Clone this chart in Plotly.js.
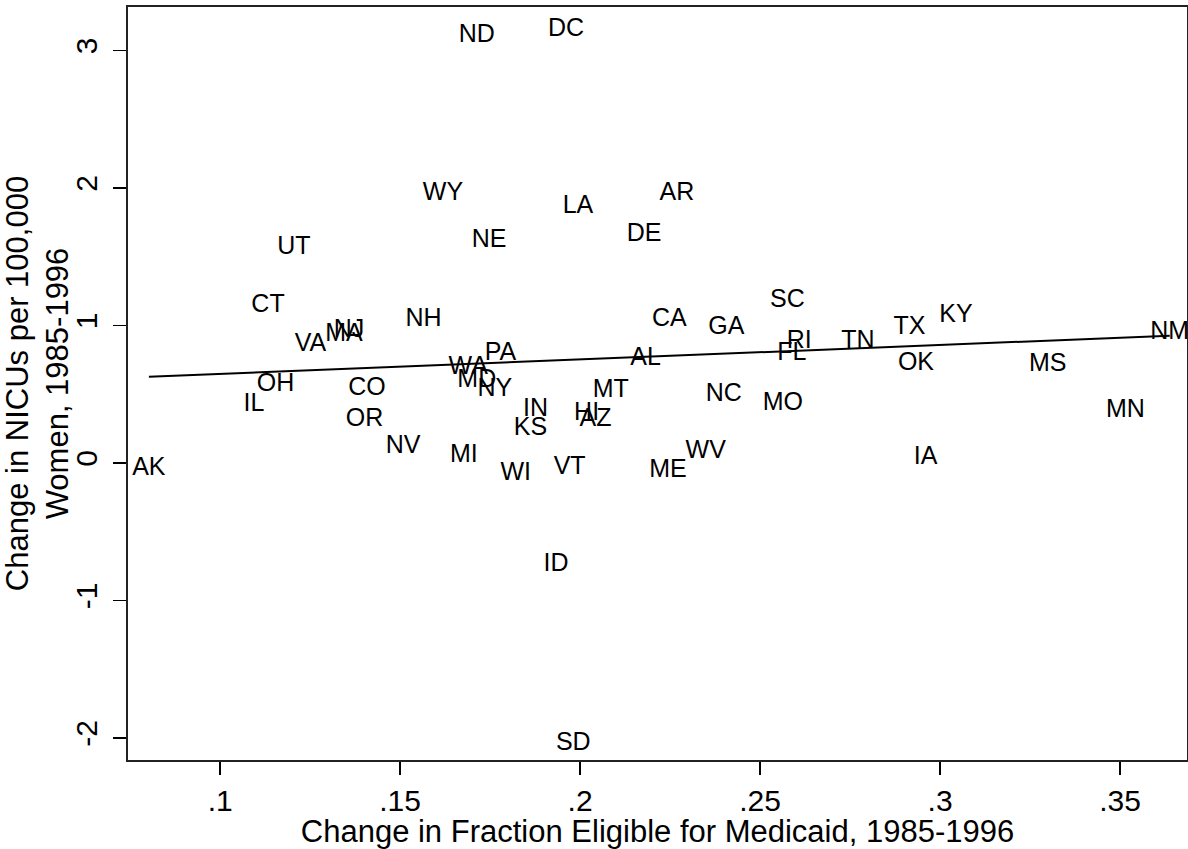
<!DOCTYPE html>
<html><head><meta charset="utf-8">
<script src="https://cdn.plot.ly/plotly-3.0.1.min.js"></script>
<style>html,body{margin:0;padding:0;background:#fff}#chart{width:1188px;height:849px}</style>
</head><body><div id="chart"></div>
<script>
const states = ["AK","CT","VA","MA","NJ","NH","OH","IL","CO","OR","NV","MI","WI","VT","WA","PA","MD","NY","IN","KS","HI","AZ","MT","AL","CA","GA","SC","RI","FL","TN","TX","KY","OK","MS","NC","MO","MN","WV","ME","IA","NM","ND","DC","WY","LA","UT","NE","DE","AR","ID","SD"];
const eligChange = [0.0802,0.1133,0.1251,0.1344,0.1358,0.1565,0.1154,0.1094,0.1408,0.1401,0.1508,0.1677,0.1821,0.1971,0.1689,0.1779,0.1713,0.1763,0.1876,0.1862,0.2018,0.2043,0.2085,0.2182,0.2248,0.2406,0.2576,0.2609,0.2588,0.2772,0.2915,0.3044,0.2933,0.3299,0.2399,0.2563,0.3515,0.2349,0.2244,0.2960,0.3638,0.1713,0.1961,0.1619,0.1994,0.1205,0.1747,0.2178,0.2269,0.1933,0.1981];
const nicuChange = [-0.045,1.145,0.860,0.933,0.960,1.038,0.565,0.420,0.541,0.311,0.120,0.048,-0.080,-0.037,0.695,0.796,0.600,0.535,0.384,0.251,0.360,0.314,0.527,0.757,1.044,0.984,1.178,0.882,0.793,0.882,0.981,1.069,0.720,0.711,0.496,0.429,0.381,0.078,-0.056,0.036,0.945,3.109,3.149,1.956,1.866,1.565,1.614,1.662,1.960,-0.744,-2.043];
const fitX = [0.0802, 0.3638];
const fitY = [0.626, 0.924];
const xTickVals = [0.1,0.15,0.2,0.25,0.3,0.35];
const xTickText = [".1",".15",".2",".25",".3",".35"];
const yTickVals = [-2,-1,0,1,2,3];
const yTickText = ["-2","-1","0","1","2","3"];

const FONT = "Liberation Sans, Arial, Helvetica, sans-serif";
const traces = [
  {x: eligChange, y: nicuChange, text: states, mode: "text", type: "scatter",
   textposition: "middle center", textfont: {family: FONT, size: 25, color: "#000"},
   hoverinfo: "text", showlegend: false},
  {x: fitX, y: fitY, mode: "lines", type: "scatter",
   line: {color: "#000", width: 2}, showlegend: false, hoverinfo: "skip"}
];
const axisCommon = {showgrid: false, zeroline: false, showline: true, mirror: true,
  linecolor: "#222", linewidth: 2, ticks: "outside", ticklen: 13, tickwidth: 1.5,
  tickcolor: "#000", tickfont: {family: FONT, size: 30, color: "#000"}};
const layout = {
  width: 1188, height: 849,
  margin: {l: 128, r: 1, t: 7, b: 89},
  paper_bgcolor: "#fff", plot_bgcolor: "#fff",
  font: {family: FONT, color: "#000"},
  xaxis: Object.assign({}, axisCommon, {
    range: [0.0744, 0.3686], tickmode: "array", tickvals: xTickVals, ticktext: xTickText,
    title: {text: "Change in Fraction Eligible for Medicaid, 1985-1996", font: {family: FONT, size: 31, color: "#000"}, standoff: 0}
  }),
  yaxis: Object.assign({}, axisCommon, {
    range: [-2.161, 3.315], tickmode: "array", tickvals: yTickVals, ticktext: yTickText, tickangle: -90,
    ticklabelstandoff: 4,
    title: {text: "Change in NICUs per 100,000<br>Women, 1985-1996", font: {family: FONT, size: 31, color: "#000"}, standoff: 3}
  })
};
Plotly.newPlot("chart", traces, layout, {displayModeBar: false, staticPlot: true});
</script>
</body></html>
